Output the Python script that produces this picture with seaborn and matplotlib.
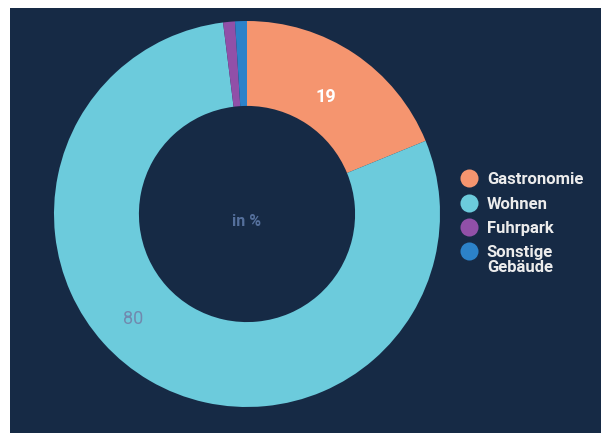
import matplotlib
matplotlib.use("Agg")
import matplotlib.pyplot as plt
import numpy as np
import seaborn as sns
from matplotlib.lines import Line2D
from matplotlib.patches import Rectangle

# Data (shares in %)
categories = ["Gastronomie", "Wohnen", "Fuhrpark", "Sonstige Gebäude"]
values = [19, 80, 1, 1]
shown_labels = {"Gastronomie": "19", "Wohnen": "80"}

colors = ["#f5956f", "#6ccbdc", "#9150a8", "#2c82c9"]
bg = "#162a45"

sns.set_theme(style="white")
plt.rcParams["font.family"] = ["Roboto", "DejaVu Sans"]

W, H = 601, 433
fig = plt.figure(figsize=(W / 100, H / 100), dpi=100)
fig.patch.set_facecolor("white")
fig.patches.append(Rectangle((10 / W, 0), 1 - 10 / W, 1 - 8 / H,
                             transform=fig.transFigure, facecolor=bg,
                             edgecolor="none", zorder=-10))

# donut centred at (247, 214) px with radius 193 px
cx, cy, r = 247, 214, 193
ax = fig.add_axes([(cx - r) / W, (H - cy - r) / H, 2 * r / W, 2 * r / H])
ax.set_facecolor("none")

wedges, _ = ax.pie(values, colors=colors, startangle=90, counterclock=False,
                   wedgeprops=dict(width=0.44, edgecolor="none"))
ax.set_xlim(-1, 1)
ax.set_ylim(-1, 1)
ax.set_aspect("equal")
ax.axis("off")

# value labels
w = wedges[0]
mid = np.deg2rad((w.theta1 + w.theta2) / 2)
ax.text(0.73 * np.cos(mid), 0.73 * np.sin(mid), shown_labels["Gastronomie"],
        color="white", fontsize=13, fontweight="bold", ha="center", va="center")

w = wedges[1]
mid = np.deg2rad((w.theta1 + w.theta2) / 2 - 17)
ax.text(0.80 * np.cos(mid), 0.80 * np.sin(mid), shown_labels["Wohnen"],
        color="#7189ae", fontsize=13, ha="center", va="center")

ax.text(0, -0.04, "in %", color="#55709c", fontsize=11.5, fontweight="bold",
        ha="center", va="center")

# legend: last label wraps onto a second line below the marker row
first_lines = [c.split(" ")[0] for c in categories]
handles = [Line2D([0], [0], marker="o", linestyle="none", markersize=13,
                  markerfacecolor=c, markeredgecolor="none") for c in colors]
leg = fig.legend(handles, first_lines, loc="upper left",
                 bbox_to_anchor=(451 / W, 1 - 164 / H), frameon=False,
                 handlelength=1.1, handletextpad=0.55, labelspacing=0.56,
                 borderpad=0, fontsize=12)
for t in leg.get_texts():
    t.set_color("#ececec")
    t.set_fontweight("bold")

fig.canvas.draw()
last = leg.get_texts()[-1]
bb = last.get_window_extent()
fig.text(bb.x0 / W, bb.y0 / H, categories[-1].split(" ", 1)[1],
         color="#ececec", fontsize=12, fontweight="bold", va="top", ha="left")

fig.savefig("out.png", dpi=100, facecolor=fig.get_facecolor())
